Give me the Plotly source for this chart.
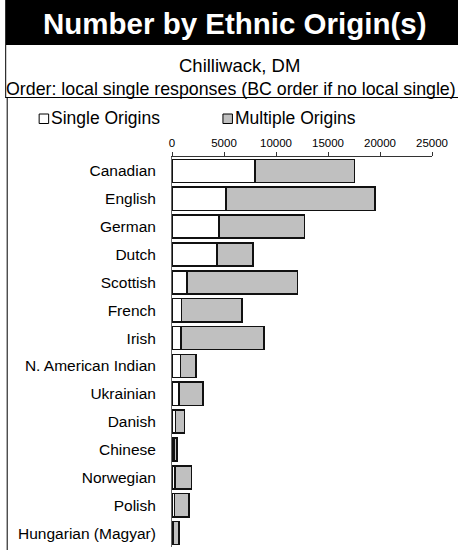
import plotly.graph_objects as go

categories = ["Canadian", "English", "German", "Dutch", "Scottish", "French", "Irish",
              "N. American Indian", "Ukrainian", "Danish", "Chinese", "Norwegian",
              "Polish", "Hungarian (Magyar)"]
single_origins = [7990, 5210, 4540, 4350, 1440, 890, 860, 800, 670, 350, 200, 290, 220, 150]
multiple_origins = [9540, 14300, 8220, 3450, 10650, 5830, 8000, 1500, 2300, 830, 290, 1600, 1410, 520]
x_ticks = [0, 5000, 10000, 15000, 20000, 25000]

W, H = 458, 550
L, R = 172.0, 432.3
T, B = 157.0, 547.0
FONT = "Arial"


def px(x):
    return (x - L) / (R - L)


def py(y):
    return (B - y) / (B - T)


fig = go.Figure()
fig.add_trace(go.Bar(
    y=categories, x=single_origins, orientation="h", name="Single Origins",
    marker=dict(color="white", line=dict(color="#111", width=1.5)),
))
fig.add_trace(go.Bar(
    y=categories, x=multiple_origins, orientation="h", name="Multiple Origins",
    marker=dict(color="#c0c0c0", line=dict(color="#111", width=1.5)),
))

shapes = [
    dict(type="rect", xref="paper", yref="paper", x0=px(5), x1=px(462), y0=py(0), y1=py(45),
         fillcolor="black", line=dict(width=0), layer="below"),
    dict(type="line", xref="paper", yref="paper", x0=px(5.5), x1=px(5.5), y0=py(45), y1=py(97.5),
         line=dict(color="black", width=1)),
    dict(type="line", xref="paper", yref="paper", x0=px(5), x1=px(462), y0=py(97.5), y1=py(97.5),
         line=dict(color="black", width=1)),
    dict(type="line", xref="paper", yref="paper", x0=px(7), x1=px(7), y0=py(97.5), y1=py(552),
         line=dict(color="black", width=1)),
    dict(type="rect", xref="paper", yref="paper", x0=px(39), x1=px(48.5), y0=py(114), y1=py(123.5),
         fillcolor="white", line=dict(color="black", width=1)),
    dict(type="rect", xref="paper", yref="paper", x0=px(223), x1=px(232.5), y0=py(114), y1=py(123.5),
         fillcolor="#c0c0c0", line=dict(color="black", width=1)),
]

annotations = [
    dict(text="<b>Number by Ethnic Origin(s)</b>", xref="paper", yref="paper",
         x=px(235), y=py(23), xanchor="center", yanchor="middle", showarrow=False,
         font=dict(family=FONT, size=29.5, color="white")),
    dict(text="Chilliwack, DM", xref="paper", yref="paper",
         x=px(240), y=py(66), xanchor="center", yanchor="middle", showarrow=False,
         font=dict(family=FONT, size=18.5, color="black")),
    dict(text="Order: local single responses (BC order if no local single)", xref="paper", yref="paper",
         x=px(231), y=py(89), xanchor="center", yanchor="middle", showarrow=False,
         font=dict(family=FONT, size=17.8, color="black")),
    dict(text="Single Origins", xref="paper", yref="paper",
         x=px(49), y=py(118.5), xanchor="left", yanchor="middle", showarrow=False,
         font=dict(family=FONT, size=17.5, color="black")),
    dict(text="Multiple Origins", xref="paper", yref="paper",
         x=px(233), y=py(118.5), xanchor="left", yanchor="middle", showarrow=False,
         font=dict(family=FONT, size=17.5, color="black")),
]

fig.update_layout(
    width=W, height=H,
    margin=dict(l=L, r=W - R, t=T, b=H - B, autoexpand=False),
    paper_bgcolor="white", plot_bgcolor="white",
    barmode="stack", bargap=0.17,
    showlegend=False,
    shapes=shapes, annotations=annotations,
    font=dict(family=FONT, color="black"),
    xaxis=dict(side="top", range=[0, 25000], tickvals=x_ticks,
               ticktext=[str(v) for v in x_ticks],
               showline=True, linecolor="#333", linewidth=1,
               ticks="outside", ticklen=4, tickcolor="#333",
               showgrid=False, zeroline=False, automargin=False,
               tickfont=dict(family=FONT, size=11.5, color="black")),
    yaxis=dict(range=[13.5, -0.5], showline=True, linecolor="#666", linewidth=1,
               ticks="", showgrid=False, zeroline=False, ticklabelstandoff=12,
               automargin=False,
               tickfont=dict(family=FONT, size=15.5, color="black")),
)

fig.write_html("out.html", config={"displayModeBar": False},
               post_script="document.body.style.margin='0px';")
